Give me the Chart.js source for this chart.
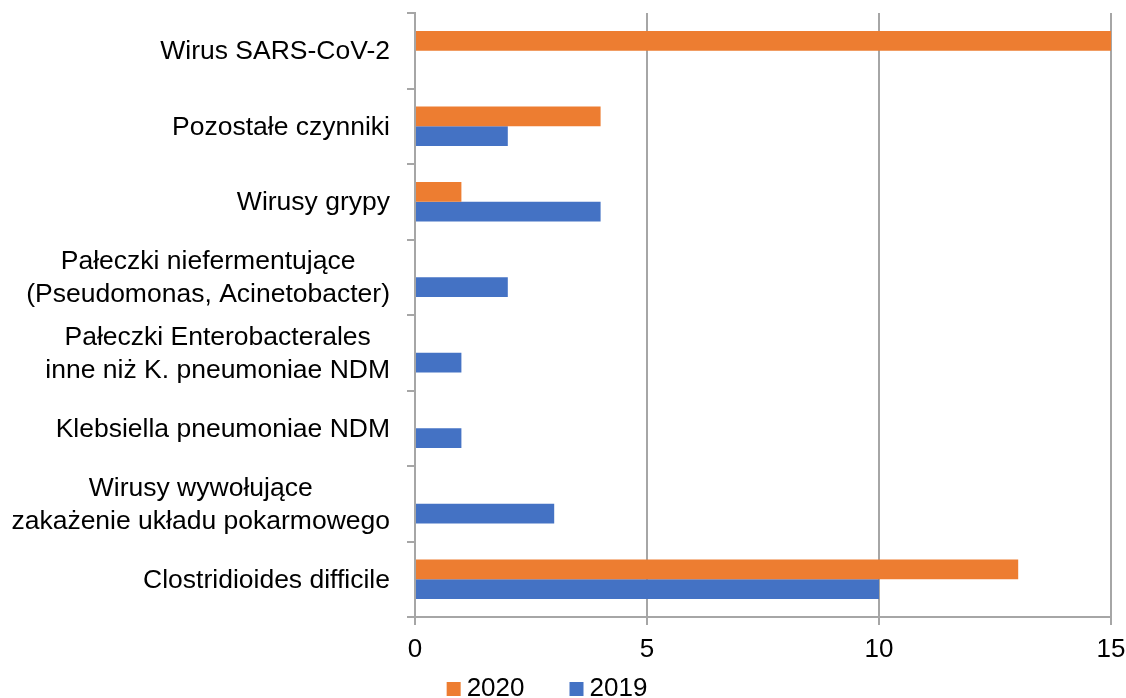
<!DOCTYPE html>
<html>
<head>
<meta charset="utf-8">
<script src="https://cdn.jsdelivr.net/npm/chart.js@4.4.1/dist/chart.umd.min.js"></script>
<style>
  html, body { margin: 0; padding: 0; background: #fff; }
  #wrap { width: 1126px; height: 698px; position: relative; }
</style>
</head>
<body>
<div id="wrap"><canvas id="chart"></canvas></div>
<script>
const categories = [
    'Wirus SARS-CoV-2',
    'Pozostałe czynniki',
    'Wirusy grypy',
    ['Pałeczki niefermentujące', '(Pseudomonas, Acinetobacter)'],
    ['Pałeczki Enterobacterales', 'inne niż K. pneumoniae NDM'],
    'Klebsiella pneumoniae NDM',
    ['Wirusy wywołujące', 'zakażenie układu pokarmowego'],
    'Clostridioides difficile'
];
const values2020 = [15, 4, 1, 0, 0, 0, 0, 13];
const values2019 = [0, 2, 4, 2, 1, 1, 3, 10];
const xTicks = [0, 5, 10, 15];

const FONT = 'Liberation Sans, Arial, sans-serif';
const gridGray = '#a6a6a6';

// category labels: block right-aligned to the axis, lines centred inside the block
// plus a legend drawn by hand (Chart.js can't do the small box/text gap with big item spacing)
const labelsAndLegend = {
    id: 'labelsAndLegend',
    afterDraw(chart) {
        const ctx = chart.ctx;
        const scale = chart.scales.y;
        const right = chart.chartArea.left - 25;
        const lineH = 33;
        ctx.save();
        ctx.font = '26.5px ' + FONT;
        ctx.fillStyle = '#000';
        ctx.textAlign = 'center';
        ctx.textBaseline = 'middle';
        categories.forEach((label, i) => {
            const lines = Array.isArray(label) ? label : [label];
            const w = Math.max(...lines.map(l => ctx.measureText(l).width));
            const cx = right - w / 2;
            const cy = scale.getPixelForValue(i);
            lines.forEach((l, j) => {
                ctx.fillText(l, cx, cy + (j - (lines.length - 1) / 2) * lineH + 1);
            });
        });

        // legend
        ctx.font = '26px ' + FONT;
        const box = 14, gapText = 6, gapItem = 45;
        const items = chart.data.datasets.map(ds => ({
            text: ds.label, color: ds.backgroundColor, w: ctx.measureText(ds.label).width
        }));
        const total = items.reduce((s, it) => s + box + gapText + it.w, 0) + gapItem * (items.length - 1);
        let x = chart.width / 2 - 16 - total / 2;
        const cy = chart.height - 10;
        ctx.textAlign = 'left';
        items.forEach(it => {
            ctx.fillStyle = it.color;
            ctx.fillRect(x, cy - 6, box, box);
            ctx.fillStyle = '#000';
            ctx.fillText(it.text, x + box + gapText, cy + 1);
            x += box + gapText + it.w + gapItem;
        });
        ctx.restore();
    }
};

new Chart(document.getElementById('chart').getContext('2d'), {
    type: 'bar',
    data: {
        labels: categories,
        datasets: [
            { label: '2020', data: values2020, backgroundColor: '#ed7d31' },
            { label: '2019', data: values2019, backgroundColor: '#4472c4' }
        ]
    },
    options: {
        indexAxis: 'y',
        responsive: true,
        maintainAspectRatio: false,
        animation: false,
        categoryPercentage: 0.52,
        barPercentage: 1,
        layout: { padding: { top: 13, left: 0, right: 0, bottom: 33 } },
        scales: {
            x: {
                min: 0,
                max: 15,
                afterBuildTicks(scale) {
                    scale.ticks = xTicks.map(v => ({ value: v }));
                },
                afterFit(scale) {
                    scale.height = 48;
                    scale.paddingRight = 15;
                },
                grid: { color: gridGray, lineWidth: 2, tickLength: 8, drawTicks: true },
                border: { display: true, color: gridGray, width: 2 },
                ticks: { font: { family: FONT, size: 26 }, color: '#000', padding: 9 }
            },
            y: {
                afterFit(scale) { scale.width = 415; },
                grid: { offset: true, drawOnChartArea: false, color: gridGray, lineWidth: 2, tickLength: 8 },
                border: { display: true, color: gridGray, width: 2 },
                ticks: { display: false }
            }
        },
        plugins: {
            legend: { display: false },
            tooltip: { enabled: false }
        }
    },
    plugins: [labelsAndLegend]
});
</script>
</body>
</html>
